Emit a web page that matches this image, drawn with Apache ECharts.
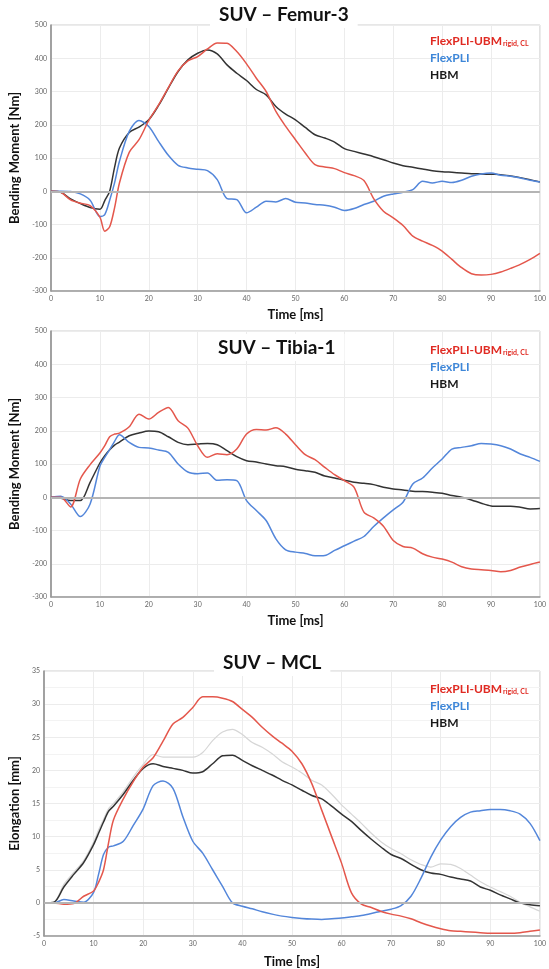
<!DOCTYPE html>
<html>
<head>
<meta charset="utf-8">
<script src="https://cdn.jsdelivr.net/npm/echarts@6/dist/echarts.min.js"></script>
<style>
  html, body { margin: 0; padding: 0; background: #fff; }
  #chart { width: 549px; height: 969px; }
</style>
</head>
<body>
<div id="chart"></div>
<script>
// time axis (ms), shared by all three panels
const timeMs = [0, 2, 4, 6, 8, 10, 11, 12, 13, 14, 16, 18, 20, 22, 24, 26, 28, 30, 32, 34, 36, 38, 40,
  42, 44, 46, 48, 50, 52, 54, 56, 58, 60, 62, 64, 66, 68, 70, 72, 74, 76, 78, 80,
  82, 84, 86, 88, 90, 92, 94, 96, 98, 100]

// SUV - Femur-3, bending moment [Nm]
const femurUbm = [0, -3, -26, -36, -43, -78, -120, -107, -50, 25, 117, 155, 213, 260, 312, 362, 392, 405, 428, 446, 445, 420, 383,
  340, 300, 240, 195, 155, 115, 80, 73, 68, 56, 47, 32, -22, -60, -80, -103, -135, -150, -163, -180,
  -205, -230, -248, -252, -250, -243, -232, -220, -205, -187]
const femurFlex = [0, 0, -1, -8, -27, -76, -70, -27, 25, 90, 180, 213, 195, 150, 108, 78, 70, 66, 62, 35, -22, -25, -65,
  -48, -30, -32, -22, -33, -35, -40, -42, -48, -58, -52, -40, -30, -15, -8, -3, 5, 30, 25, 30,
  26, 33, 45, 52, 55, 48, 45, 40, 33, 28]
const femurHbm = [0, -3, -23, -37, -49, -54, -28, 0, 72, 130, 177, 193, 215, 258, 310, 360, 395, 415, 425, 413, 380, 355, 333,
  306, 290, 255, 232, 215, 192, 170, 160, 148, 128, 120, 112, 104, 95, 85, 77, 72, 67, 62, 59,
  57, 55, 53, 52, 51, 50, 46, 41, 35, 28]

// SUV - Tibia-1, bending moment [Nm]
const tibiaUbm = [0, 0, -29, 55, 98, 133, 155, 182, 190, 193, 212, 250, 235, 255, 270, 230, 208, 155, 120, 131, 128, 145, 190,
  204, 202, 209, 190, 158, 128, 113, 90, 68, 50, 30, -45, -62, -87, -130, -148, -153, -170, -180, -186,
  -195, -209, -216, -218, -220, -224, -220, -210, -202, -195]
const tibiaFlex = [0, 3, -20, -58, -20, 93, 120, 143, 168, 188, 165, 150, 148, 142, 135, 100, 76, 71, 73, 51, 53, 50, -10,
  -40, -70, -125, -158, -165, -169, -176, -175, -160, -146, -132, -118, -88, -62, -38, -15, 40, 58, 88, 115,
  145, 150, 155, 162, 160, 155, 145, 130, 120, 108]
const tibiaHbm = [0, -3, -10, -10, 45, 103, 125, 143, 157, 166, 185, 193, 199, 197, 182, 165, 158, 160, 162, 158, 140, 122, 110,
  106, 100, 95, 92, 84, 80, 75, 64, 58, 51, 45, 42, 38, 30, 25, 22, 18, 17, 15, 12,
  5, 0, -8, -18, -26, -27, -27, -30, -35, -34]

// SUV - MCL, elongation [mm]
const mclUbm = [0, 0, -0.2, -0.1, 1.0, 1.8, 3.1, 5.0, 9.0, 12.5, 15.7, 18.3, 20.5, 21.9, 24.4, 27.0, 28.0, 29.5, 31.1, 31.1, 30.9, 30.4, 29.2,
  28.0, 26.5, 25.2, 24.1, 22.9, 21.0, 18.0, 14.0, 10.0, 6.0, 1.5, -0.2, -0.7, -1.3, -1.7, -2.0, -2.4, -3.0, -3.5, -3.9,
  -4.2, -4.3, -4.4, -4.5, -4.6, -4.6, -4.6, -4.5, -4.3, -4.1]
const mclFlex = [0, 0, 0.5, 0.3, 0.1, 1.6, 4.3, 7.3, 8.4, 8.6, 9.3, 11.7, 14.2, 17.7, 18.4, 17.3, 13.0, 9.3, 7.5, 5.0, 2.5, 0, -0.5,
  -0.9, -1.35, -1.7, -2.0, -2.2, -2.35, -2.45, -2.5, -2.4, -2.3, -2.1, -1.9, -1.6, -1.25, -0.95, -0.4, 1.0, 3.7, 6.9, 9.5,
  11.5, 12.9, 13.7, 13.9, 14.1, 14.1, 13.9, 13.4, 12.0, 9.4]
const mclHbm = [0, 0.1, 2.4, 4.3, 6.1, 8.8, 10.5, 12.2, 13.8, 14.6, 16.4, 18.5, 20.3, 21.0, 20.6, 20.3, 20.0, 19.6, 19.8, 21.0, 22.2, 22.3, 21.5,
  20.7, 20.0, 19.3, 18.5, 17.8, 17.0, 16.2, 15.7, 14.6, 13.4, 12.3, 10.9, 9.6, 8.4, 7.3, 6.7, 5.8, 5.0, 4.5, 4.3,
  3.9, 3.6, 3.3, 2.4, 1.9, 1.2, 0.6, 0, -0.3, -0.45]
const mclGrey = [0, 0.1, 2.8, 4.6, 6.4, 9.2, 11.0, 12.6, 14.2, 15.0, 16.8, 19.0, 20.9, 22.4, 22.0, 22.0, 22.0, 22.0, 22.7, 24.5, 25.8, 26.2, 25.4,
  24.2, 23.5, 22.5, 21.3, 20.5, 19.6, 18.5, 17.8, 16.4, 14.8, 13.4, 12.0, 10.5, 9.2, 8.2, 7.4, 6.5, 5.8, 5.4, 5.9,
  5.8, 5.2, 4.2, 3.2, 2.4, 1.7, 1.0, 0.1, -0.6, -1.25]

const panelTitles = ['SUV \u2013 Femur-3', 'SUV \u2013 Tibia-1', 'SUV \u2013 MCL']
const yNames = ['Bending Moment [Nm]', 'Bending Moment [Nm]', 'Elongation [mm]']
const legendNames = ['FlexPLI-UBM', 'FlexPLI', 'HBM']

const RED = '#e4574c'
const BLUE = '#5386da'
const BLACK = '#333333'
const FONT = 'Lato, "Open Sans", sans-serif'

function pairs (values) {
  return timeMs.map((t, i) => [t, values[i]])
}

const chart = echarts.init(document.getElementById('chart'), null, { renderer: 'canvas' })

const grids = [
  { left: 51, top: 25, width: 491, height: 266 },
  { left: 51, top: 331, width: 491, height: 266 },
  { left: 44, top: 671, width: 499, height: 267 }
]
const yRanges = [
  { min: -300, max: 500, interval: 100 },
  { min: -300, max: 500, interval: 100 },
  { min: -5, max: 35, interval: 5 }
]
const titleBoxes = [
  { left: 210, top: 1 },
  { left: 209, top: 334 },
  { left: 214, top: 649 }
]
const legendTops = [29, 338, 677]

const xAxes = grids.map((g, i) => ({
  type: 'value',
  gridIndex: i,
  min: 0,
  max: 100,
  interval: 10,
  name: 'Time [ms]',
  nameLocation: 'middle',
  nameGap: i === 2 ? 19 : 17,
  nameTextStyle: { fontFamily: FONT, fontWeight: 'bold', fontSize: 13, color: '#111' },
  axisLine: { onZero: false, lineStyle: { color: '#9a9a9a', width: 1.5 } },
  axisTick: { show: false },
  axisLabel: { fontSize: 7, color: '#666', margin: 4, fontFamily: FONT },
  splitLine: { show: true, lineStyle: { color: '#ececec', width: 1 } }
}))

const yAxes = grids.map((g, i) => ({
  type: 'value',
  gridIndex: i,
  min: yRanges[i].min,
  max: yRanges[i].max,
  interval: yRanges[i].interval,
  name: yNames[i],
  nameLocation: 'middle',
  nameGap: i === 2 ? 21 : 27,
  nameTextStyle: { fontFamily: FONT, fontWeight: 'bold', fontSize: 13, color: '#111' },
  axisLine: { show: true, lineStyle: { color: '#8a8a8a', width: 1.5 } },
  axisTick: { show: false },
  axisLabel: { fontSize: 7, color: '#666', margin: 4, fontFamily: FONT },
  splitLine: { show: true, lineStyle: { color: '#ececec', width: 1 } },
  minorTick: { show: false, splitNumber: 2 },
  minorSplitLine: { show: i === 2, lineStyle: { color: '#f3f3f3', width: 1 } }
}))

const zeroLine = {
  silent: true,
  symbol: 'none',
  label: { show: false },
  lineStyle: { color: '#b4b4b4', width: 2, type: 'solid' },
  data: [{ yAxis: 0 }]
}

function line (name, values, idx, color, extra) {
  return Object.assign({
    name: name,
    type: 'line',
    xAxisIndex: idx,
    yAxisIndex: idx,
    data: pairs(values),
    showSymbol: false,
    smooth: 0.3,
    lineStyle: { color: color, width: 1.5 },
    itemStyle: { color: color },
    z: 3
  }, extra || {})
}

const series = [
  line('HBM', femurHbm, 0, BLACK, { markLine: zeroLine }),
  line('FlexPLI', femurFlex, 0, BLUE),
  line('FlexPLI-UBM', femurUbm, 0, RED),
  line('HBM', tibiaHbm, 1, BLACK, { markLine: zeroLine }),
  line('FlexPLI', tibiaFlex, 1, BLUE),
  line('FlexPLI-UBM', tibiaUbm, 1, RED),
  line('HBM (grey)', mclGrey, 2, '#d6d6d6', { lineStyle: { color: '#d6d6d6', width: 1.2 }, z: 2 }),
  line('HBM', mclHbm, 2, BLACK, { markLine: zeroLine }),
  line('FlexPLI', mclFlex, 2, BLUE),
  line('FlexPLI-UBM', mclUbm, 2, RED)
]

const legends = legendTops.map(top => ({
  top: top,
  left: 420,
  orient: 'vertical',
  itemGap: 3,
  itemWidth: 0,
  itemHeight: 0,
  selectedMode: false,
  icon: 'rect',
  data: [
    { name: 'FlexPLI-UBM', textStyle: { color: '#e02a22' } },
    { name: 'FlexPLI', textStyle: { color: '#3d86d8' } },
    { name: 'HBM', textStyle: { color: '#1a1a1a' } }
  ],
  formatter: function (name) {
    return name === 'FlexPLI-UBM' ? '{m|FlexPLI-UBM}{s|rigid, CL}' : name
  },
  textStyle: {
    fontFamily: FONT,
    fontWeight: 'bold',
    fontSize: 12,
    lineHeight: 14,
    rich: {
      m: { color: '#e02a22', fontFamily: FONT, fontWeight: 'bold', fontSize: 12 },
      s: { color: '#e02a22', fontFamily: FONT, fontSize: 7, padding: [6, 0, 0, 1] }
    }
  }
}))

const titles = panelTitles.map((text, i) => ({
  text: text,
  left: titleBoxes[i].left,
  top: titleBoxes[i].top,
  padding: [4, 9, 4, 9],
  backgroundColor: '#fff',
  textStyle: { fontFamily: FONT, fontWeight: 'bold', fontSize: 19, color: '#111' }
}))

chart.setOption({
  animation: false,
  backgroundColor: '#fff',
  title: titles,
  legend: legends,
  grid: grids.map(g => Object.assign({ show: true, borderColor: '#cfcfcf', borderWidth: 1, containLabel: false }, g)),
  xAxis: xAxes,
  yAxis: yAxes,
  series: series
})
</script>
</body>
</html>
